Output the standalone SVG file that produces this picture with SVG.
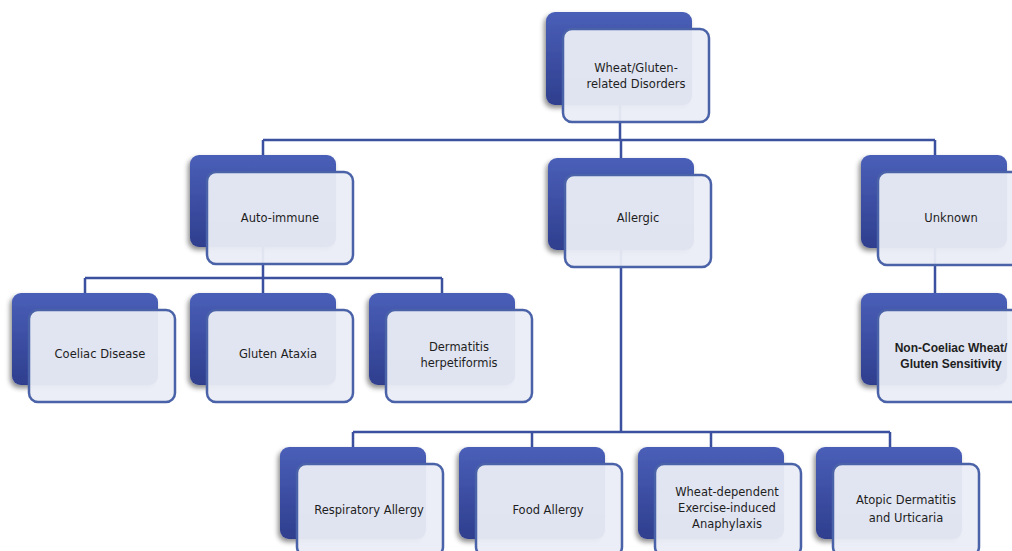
<svg xmlns="http://www.w3.org/2000/svg" width="1012" height="551" viewBox="0 0 1012 551">
<defs>
<linearGradient id="dk" x1="0" y1="0" x2="0" y2="1">
<stop offset="0" stop-color="#4a5fb8"/>
<stop offset="1" stop-color="#2f3e8e"/>
</linearGradient>
<filter id="sh" x="-20%" y="-20%" width="140%" height="140%">
<feDropShadow dx="-2" dy="3" stdDeviation="2.5" flood-color="#000" flood-opacity="0.45"/>
</filter>
<style>
.bk{fill:url(#dk);filter:url(#sh)}
.fr{fill:#eaedf6;fill-opacity:0.95;stroke:#4a62a8;stroke-width:2.5}
.cn{fill:none;stroke:#3b51a0;stroke-width:2.5}
text{font-family:"DejaVu Sans","Liberation Sans",sans-serif;font-size:11.5px;fill:#1e1e1e;text-anchor:middle}
.b{font-family:"Liberation Sans",sans-serif;font-weight:bold;font-size:12px}
</style>
</defs>
<rect width="1012" height="551" fill="#fff"/>
<g id="connectors">
<path class="cn" d="M620 105V140M263 140H935M263 140V155M621 140V158M935 140V155"/>
<path class="cn" d="M263 247V278M85 278H442M85 278V293M263 278V293M442 278V293"/>
<path class="cn" d="M935 248V293"/>
<path class="cn" d="M621 250V432M353 432H890M353 432V447M532 432V447M711 432V447M890 432V447"/>
</g>
<g id="n-root">
<rect class="bk" x="546" y="12" width="146" height="93" rx="9"/>
<rect class="fr" x="563" y="29" width="146" height="93" rx="9"/>
<text x="636" y="72">Wheat/Gluten-</text><text x="636" y="88">related Disorders</text>
</g>
<g id="n-auto">
<rect class="bk" x="190" y="155" width="146" height="92" rx="9"/>
<rect class="fr" x="207" y="172" width="146" height="92" rx="9"/>
<text x="280" y="222">Auto-immune</text>
</g>
<g id="n-allergic">
<rect class="bk" x="548" y="158" width="146" height="92" rx="9"/>
<rect class="fr" x="565" y="175" width="146" height="92" rx="9"/>
<text x="638" y="222">Allergic</text>
</g>
<g id="n-unknown">
<rect class="bk" x="861" y="155" width="146" height="93" rx="9"/>
<rect class="fr" x="878" y="172" width="146" height="93" rx="9"/>
<text x="951" y="222">Unknown</text>
</g>
<g id="n-coeliac">
<rect class="bk" x="12" y="293" width="146" height="92" rx="9"/>
<rect class="fr" x="29" y="310" width="146" height="92" rx="9"/>
<text x="100" y="358">Coeliac Disease</text>
</g>
<g id="n-ataxia">
<rect class="bk" x="190" y="293" width="146" height="92" rx="9"/>
<rect class="fr" x="207" y="310" width="146" height="92" rx="9"/>
<text x="278" y="358">Gluten Ataxia</text>
</g>
<g id="n-dermatitis">
<rect class="bk" x="369" y="293" width="146" height="92" rx="9"/>
<rect class="fr" x="386" y="310" width="146" height="92" rx="9"/>
<text x="459" y="351">Dermatitis</text><text x="459" y="367">herpetiformis</text>
</g>
<g id="n-ncws">
<rect class="bk" x="861" y="293" width="146" height="92" rx="9"/>
<rect class="fr" x="878" y="310" width="146" height="92" rx="9"/>
<text class="b" x="951" y="352">Non-Coeliac Wheat/</text><text class="b" x="951" y="368">Gluten Sensitivity</text>
</g>
<g id="n-resp">
<rect class="bk" x="280" y="447" width="146" height="92" rx="9"/>
<rect class="fr" x="297" y="464" width="146" height="92" rx="9"/>
<text x="369" y="514">Respiratory Allergy</text>
</g>
<g id="n-food">
<rect class="bk" x="459" y="447" width="146" height="92" rx="9"/>
<rect class="fr" x="476" y="464" width="146" height="92" rx="9"/>
<text x="548" y="514">Food Allergy</text>
</g>
<g id="n-wdeia">
<rect class="bk" x="638" y="447" width="146" height="92" rx="9"/>
<rect class="fr" x="655" y="464" width="146" height="92" rx="9"/>
<text x="727" y="496">Wheat-dependent</text><text x="727" y="512">Exercise-induced</text><text x="727" y="528">Anaphylaxis</text>
</g>
<g id="n-atopic">
<rect class="bk" x="816" y="447" width="146" height="92" rx="9"/>
<rect class="fr" x="833" y="464" width="146" height="92" rx="9"/>
<text x="906" y="504">Atopic Dermatitis</text><text x="906" y="522">and Urticaria</text>
</g>
</svg>
